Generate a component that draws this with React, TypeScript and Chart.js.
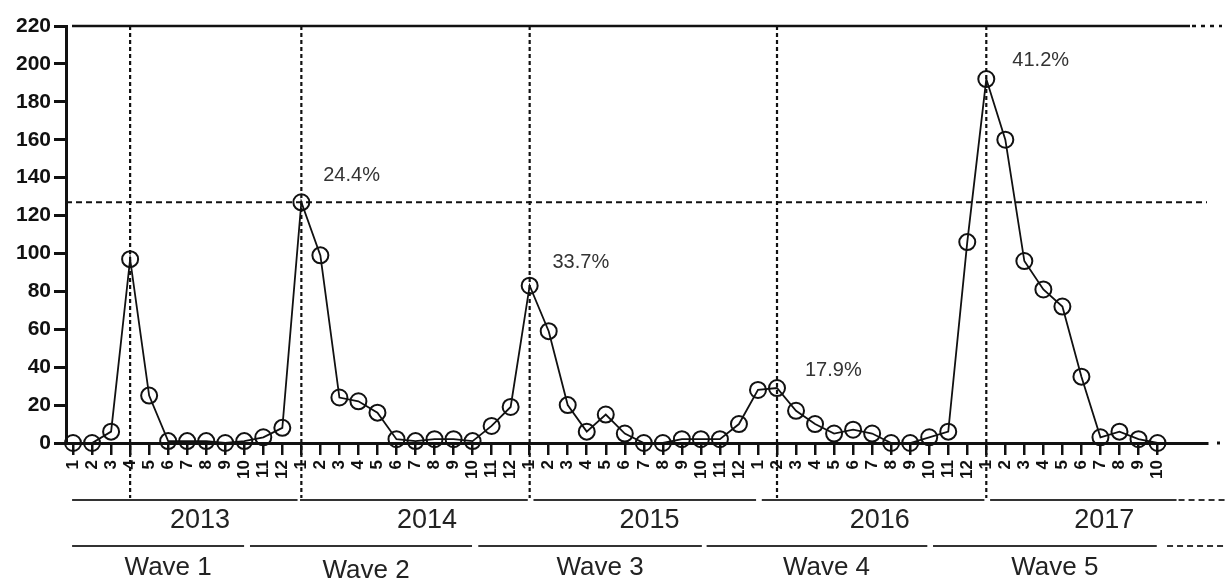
import React, { useEffect, useRef } from "react";
import { Chart, registerables } from "chart.js";

Chart.register(...registerables);

// ---- Data ----
const years = ["2013", "2014", "2015", "2016", "2017"];
const waves = ["Wave 1", "Wave 2", "Wave 3", "Wave 4", "Wave 5"];
const cases2013 = [0, 0, 6, 97, 25, 1, 1, 1, 0, 1, 3, 8];
const cases2014 = [127, 99, 24, 22, 16, 2, 1, 2, 2, 1, 9, 19];
const cases2015 = [83, 59, 20, 6, 15, 5, 0, 0, 2, 2, 2, 10];
const cases2016 = [28, 29, 17, 10, 5, 7, 5, 0, 0, 3, 6, 106];
const cases2017 = [192, 160, 96, 81, 72, 35, 3, 6, 2, 0];
const monthLabels = [
  "1", "2", "3", "4", "5", "6", "7", "8", "9", "10", "11", "12",
  "1", "2", "3", "4", "5", "6", "7", "8", "9", "10", "11", "12",
  "1", "2", "3", "4", "5", "6", "7", "8", "9", "10", "11", "12",
  "1", "2", "3", "4", "5", "6", "7", "8", "9", "10", "11", "12",
  "1", "2", "3", "4", "5", "6", "7", "8", "9", "10",
];
const peakPercents = ["24.4%", "33.7%", "17.9%", "41.2%"];
const peakIndex = [12, 24, 37, 48]; // month index of the wave peaks marked with dashed lines
const firstPeakIndex = 3;
const refLevel = 127; // horizontal dashed reference
const yTicksMax = 220;

const allCases = [...cases2013, ...cases2014, ...cases2015, ...cases2016, ...cases2017];

// ---- Layout of decorations (in x-index units / y-value units) ----
const percentPos = [
  { dx: 1.15, y: 141 },
  { dx: 1.2, y: 95 },
  { dx: 1.47, y: 38.5 },
  { dx: 1.37, y: 202 },
];
const yearSegs = [
  [-0.05, 11.8],
  [11.93, 23.9],
  [24.2, 35.9],
  [36.2, 47.9],
  [48.2, 58.0],
];
const yearCenters = [6.67, 18.6, 30.3, 42.4, 54.2];
const waveSegs = [
  [-0.05, 8.99],
  [9.3, 20.97],
  [21.3, 33.05],
  [33.3, 44.9],
  [45.2, 56.96],
];
const waveCenters = [5.0, 15.4, 27.7, 39.6, 51.6];

const FONT = "'Liberation Sans', Arial, Helvetica, sans-serif";

const overlay = {
  id: "overlay",
  beforeDatasetsDraw(chart: any) {
    const ctx = chart.ctx;
    const xs = chart.scales.x;
    const ys = chart.scales.y;
    const area = chart.chartArea;
    ctx.save();
    ctx.strokeStyle = "#111";
    // top solid line at 220
    const yTop = ys.getPixelForValue(yTicksMax);
    ctx.lineWidth = 2.5;
    ctx.setLineDash([]);
    ctx.beginPath();
    ctx.moveTo(area.left + 6, yTop);
    ctx.lineTo(1190, yTop);
    ctx.stroke();
    ctx.setLineDash([4, 5]);
    ctx.beginPath();
    ctx.moveTo(1192, yTop);
    ctx.lineTo(1222, yTop);
    ctx.stroke();
    // horizontal dashed reference
    ctx.lineWidth = 2;
    ctx.setLineDash([6, 4]);
    const yRef = ys.getPixelForValue(refLevel);
    ctx.beginPath();
    ctx.moveTo(area.left, yRef);
    ctx.lineTo(area.right, yRef);
    ctx.stroke();
    // vertical dashed lines
    ctx.lineWidth = 2.2;
    ctx.setLineDash([4, 3]);
    [firstPeakIndex, ...peakIndex].forEach((i) => {
      const x = xs.getPixelForValue(i);
      ctx.beginPath();
      ctx.moveTo(x, yTop);
      ctx.lineTo(x, area.bottom + 55);
      ctx.stroke();
    });
    ctx.restore();
  },
  afterDraw(chart: any) {
    const ctx = chart.ctx;
    const xs = chart.scales.x;
    const ys = chart.scales.y;
    const area = chart.chartArea;
    ctx.save();
    // dot after x axis
    ctx.fillStyle = "#111";
    ctx.fillRect(1217, area.bottom - 1.5, 3, 3);
    // percentages
    ctx.fillStyle = "#333";
    ctx.font = `20px ${FONT}`;
    ctx.textAlign = "left";
    ctx.textBaseline = "middle";
    peakPercents.forEach((t, k) => {
      ctx.fillText(t, xs.getPixelForValue(peakIndex[k] + percentPos[k].dx), ys.getPixelForValue(percentPos[k].y));
    });
    // year row
    const yYearLine = area.bottom + 57;
    const yWaveLine = area.bottom + 103;
    ctx.strokeStyle = "#333";
    ctx.lineWidth = 2;
    ctx.setLineDash([]);
    yearSegs.forEach(([a, b]) => {
      ctx.beginPath();
      ctx.moveTo(xs.getPixelForValue(a), yYearLine);
      ctx.lineTo(xs.getPixelForValue(b), yYearLine);
      ctx.stroke();
    });
    waveSegs.forEach(([a, b]) => {
      ctx.beginPath();
      ctx.moveTo(xs.getPixelForValue(a), yWaveLine);
      ctx.lineTo(xs.getPixelForValue(b), yWaveLine);
      ctx.stroke();
    });
    ctx.setLineDash([6, 4]);
    ctx.beginPath();
    ctx.moveTo(xs.getPixelForValue(58.0) + 2, yYearLine);
    ctx.lineTo(1227, yYearLine);
    ctx.stroke();
    ctx.beginPath();
    ctx.moveTo(xs.getPixelForValue(57.5), yWaveLine);
    ctx.lineTo(1227, yWaveLine);
    ctx.stroke();
    ctx.setLineDash([]);
    ctx.fillStyle = "#222";
    ctx.textAlign = "center";
    ctx.font = `27px ${FONT}`;
    years.forEach((t, k) => {
      ctx.fillText(t, xs.getPixelForValue(yearCenters[k]), area.bottom + 78);
    });
    ctx.font = `26px ${FONT}`;
    waves.forEach((t, k) => {
      ctx.fillText(t, xs.getPixelForValue(waveCenters[k]), area.bottom + (k === 1 ? 128 : 125));
    });
    ctx.restore();
  },
};

export default function App() {
  const ref = useRef<HTMLCanvasElement>(null);
  useEffect(() => {
    if (!ref.current) return;
    const chart = new Chart(ref.current, {
      type: "line",
      data: {
        datasets: [
          {
            data: allCases.map((v, i) => ({ x: i, y: v })),
            borderColor: "#111",
            borderWidth: 1.8,
            pointRadius: 8,
            pointBorderWidth: 2,
            pointBorderColor: "#111",
            pointBackgroundColor: "rgba(0,0,0,0)",
            pointStyle: "circle",
            tension: 0,
            clip: false as any,
          },
        ],
      },
      options: {
        responsive: false,
        animation: false,
        layout: { padding: { left: 0, top: 26, right: 20, bottom: 0 } },
        plugins: { legend: { display: false }, tooltip: { enabled: false } },
        scales: {
          x: {
            type: "linear",
            min: -0.37,
            max: 59.6,
            afterBuildTicks: (scale: any) => {
              scale.ticks = monthLabels.map((_, i) => ({ value: i }));
            },
            afterFit: (scale: any) => {
              scale.height = 138;
            },
            ticks: {
              autoSkip: false,
              maxRotation: 90,
              minRotation: 90,
              padding: 5,
              color: "#111",
              font: { family: FONT, size: 17, weight: "bold" },
              callback: (_v: any, i: number) => monthLabels[i],
            },
            grid: {
              drawOnChartArea: false,
              drawTicks: true,
              tickLength: 12,
              lineWidth: 2.5,
              color: "#111",
            },
            border: { display: true, color: "#111", width: 3 },
          },
          y: {
            min: 0,
            max: yTicksMax,
            afterFit: (scale: any) => {
              scale.width = 66;
            },
            ticks: {
              stepSize: 20,
              padding: 3,
              color: "#111",
              font: { family: FONT, size: 21, weight: "bold" },
            },
            grid: {
              drawOnChartArea: false,
              drawTicks: true,
              tickLength: 12,
              lineWidth: 3,
              color: "#111",
            },
            border: { display: true, color: "#111", width: 3 },
          },
        },
      },
      plugins: [overlay],
    });
    return () => chart.destroy();
  }, []);
  return (
    <div style={{ position: "absolute", left: 0, top: 0, width: 1227, height: 581, background: "#fff" }}>
      <canvas ref={ref} width={1227} height={581} style={{ display: "block" }} />
    </div>
  );
}
